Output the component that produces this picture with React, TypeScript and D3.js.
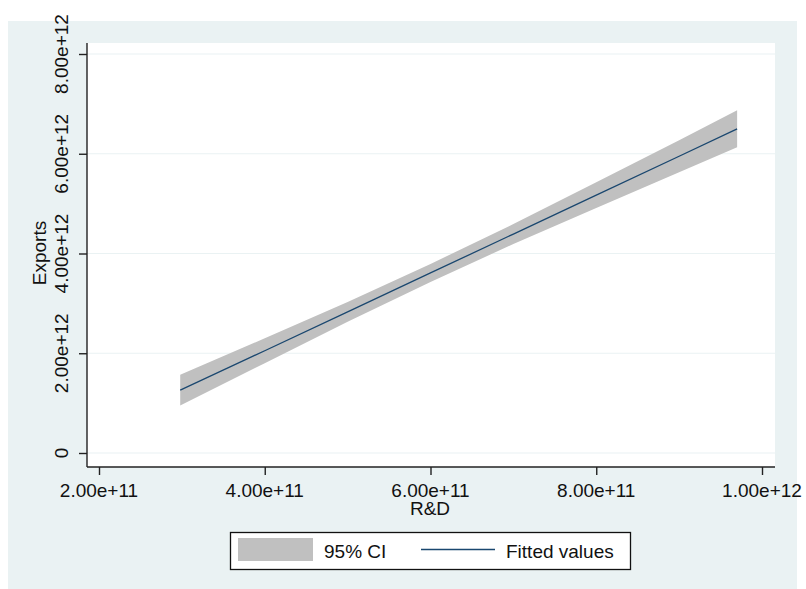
import React, { useEffect, useRef } from 'react';
import * as d3 from 'd3';

// R&D spending (x) and the fitted linear prediction of exports with its 95% CI
const rdValues = [2.98e11, 4e11, 5e11, 6e11, 7e11, 8e11, 9e11, 9.7e11];
const fittedValues = [1.26e12, 2.05e12, 2.83e12, 3.61e12, 4.39e12, 5.17e12, 5.95e12, 6.5e12];
const ciLower = [0.95e12, 1.8e12, 2.63e12, 3.43e12, 4.19e12, 4.91e12, 5.63e12, 6.13e12];
const ciUpper = [1.57e12, 2.3e12, 3.03e12, 3.79e12, 4.59e12, 5.43e12, 6.27e12, 6.87e12];

const xTicks = [2e11, 4e11, 6e11, 8e11, 1e12];
const yTicks = [0, 2e12, 4e12, 6e12, 8e12];
const legendLabels = ['95% CI', 'Fitted values'];

const width = 806;
const height = 589;
const font = '"Liberation Sans", Arial, sans-serif';
const bg = '#EAF2F3';

const App: React.FC = () => {
  const svgRef = useRef<SVGSVGElement>(null);

  useEffect(() => {
    if (!svgRef.current) return;
    const svg = d3.select(svgRef.current);
    svg.selectAll('*').remove();

    const plot = { left: 87, right: 775, top: 43, bottom: 467 };

    const x = d3.scaleLinear().domain([2e11, 1e12]).range([99, 762]);
    const y = d3.scaleLinear().domain([0, 8e12]).range([453, 54]);
    const fmt = (v: number) => (v === 0 ? '0' : d3.format('.2e')(v));

    svg.append('rect')
      .attr('x', 8).attr('y', 21)
      .attr('width', 789).attr('height', height - 21)
      .attr('fill', bg);

    svg.append('rect')
      .attr('x', plot.left).attr('y', plot.top)
      .attr('width', plot.right - plot.left).attr('height', plot.bottom - plot.top)
      .attr('fill', '#fff');

    // grid
    svg.append('g')
      .selectAll('line')
      .data(yTicks)
      .enter()
      .append('line')
      .attr('x1', plot.left).attr('x2', plot.right)
      .attr('y1', d => y(d)).attr('y2', d => y(d))
      .attr('stroke', bg).attr('stroke-width', 1.2);

    const rows = rdValues.map((r, i) => ({ r, fit: fittedValues[i], lo: ciLower[i], hi: ciUpper[i] }));

    const area = d3.area<typeof rows[number]>()
      .x(d => x(d.r))
      .y0(d => y(d.lo))
      .y1(d => y(d.hi));
    svg.append('path').datum(rows).attr('d', area).attr('fill', '#C0C0C0');

    const line = d3.line<typeof rows[number]>().x(d => x(d.r)).y(d => y(d.fit));
    svg.append('path').datum(rows).attr('d', line)
      .attr('fill', 'none').attr('stroke', '#1A476F').attr('stroke-width', 1.3);

    // axes
    const xAxis = svg.append('g')
      .attr('transform', `translate(0,${plot.bottom})`)
      .call(d3.axisBottom(x).tickValues(xTicks).tickSize(8).tickFormat(() => ''));
    xAxis.select('.domain').attr('d', `M${plot.left},0H${plot.right}`);

    const yAxis = svg.append('g')
      .attr('transform', `translate(${plot.left},0)`)
      .call(d3.axisLeft(y).tickValues(yTicks).tickSize(8).tickFormat(() => ''));
    yAxis.select('.domain').attr('d', `M0,${plot.top}V${plot.bottom}`);

    svg.selectAll('.domain, .tick line').attr('stroke', '#222').attr('stroke-width', 1.4);

    svg.append('g')
      .selectAll('text')
      .data(xTicks)
      .enter()
      .append('text')
      .attr('x', d => x(d)).attr('y', 497)
      .attr('text-anchor', 'middle')
      .style('font-family', font).style('font-size', '19px').style('fill', '#111')
      .text(d => fmt(d));

    svg.append('g')
      .selectAll('text')
      .data(yTicks)
      .enter()
      .append('text')
      .attr('transform', d => `translate(68,${y(d)}) rotate(-90)`)
      .attr('text-anchor', 'middle')
      .style('font-family', font).style('font-size', '19px').style('fill', '#111')
      .text(d => fmt(d));

    svg.append('text')
      .attr('x', 430).attr('y', 515)
      .attr('text-anchor', 'middle')
      .style('font-family', font).style('font-size', '19px').style('fill', '#111')
      .text('R&D');

    svg.append('text')
      .attr('transform', 'translate(46,253) rotate(-90)')
      .attr('text-anchor', 'middle')
      .style('font-family', font).style('font-size', '19px').style('fill', '#111')
      .text('Exports');

    // legend
    const lg = svg.append('g');
    lg.append('rect')
      .attr('x', 230.5).attr('y', 532.5).attr('width', 400).attr('height', 37)
      .attr('fill', '#fff').attr('stroke', '#111').attr('stroke-width', 1.3);
    lg.append('rect')
      .attr('x', 238).attr('y', 538).attr('width', 75).attr('height', 23)
      .attr('fill', '#C0C0C0');
    lg.append('text')
      .attr('x', 324).attr('y', 558)
      .style('font-family', font).style('font-size', '19px').style('fill', '#111')
      .text(legendLabels[0]);
    lg.append('line')
      .attr('x1', 421).attr('x2', 495).attr('y1', 549.5).attr('y2', 549.5)
      .attr('stroke', '#1A476F').attr('stroke-width', 1.3);
    lg.append('text')
      .attr('x', 506).attr('y', 558)
      .style('font-family', font).style('font-size', '19px').style('fill', '#111')
      .text(legendLabels[1]);
  }, []);

  return (
    <div style={{ position: 'absolute', left: 0, top: 0 }}>
      <svg ref={svgRef} width={width} height={height} style={{ display: 'block', background: '#fff' }} />
    </div>
  );
};

export default App;
